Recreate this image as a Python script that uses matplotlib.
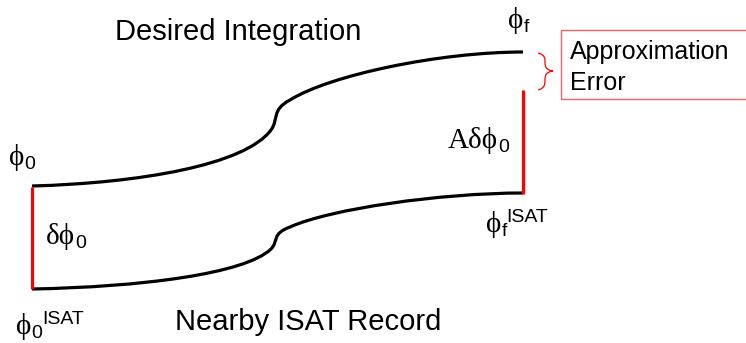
import matplotlib.pyplot as plt
from matplotlib.path import Path
from matplotlib.patches import PathPatch, Rectangle

# curve control points (pixel units, y downwards): start, then cubic triples
upper_curve = [(32, 186),
               (140, 183), (245, 165), (271, 130),
               (279, 119), (271, 110), (290, 100),
               (330, 75), (440, 52), (523, 52)]
lower_curve = [(32, 289),
               (140, 287), (245, 274), (271, 249),
               (279, 241), (271, 234), (290, 227),
               (330, 209), (440, 193), (523, 193)]

# vertical offsets between the two trajectories
start_gap = [(32, 187), (32, 289)]
end_gap = [(523, 90), (523, 194)]

# brace next to the error box
brace = [(538, 53),
         (545, 55), (545, 58), (545, 62),
         (545, 67), (546, 70), (553, 71),
         (546, 72), (545, 75), (545, 80),
         (545, 84), (545, 88), (538, 90)]

titles = ["Desired Integration", "Nearby ISAT Record"]
box_lines = ["Approximation", "Error"]

serif = ["Liberation Serif", "DejaVu Serif"]
sans = ["Liberation Sans", "DejaVu Sans"]


def bezier(pts):
    codes = [Path.MOVETO] + [Path.CURVE4] * (len(pts) - 1)
    return Path(pts, codes)


fig = plt.figure(figsize=(7.46, 3.43), dpi=100)
ax = fig.add_axes([0, 0, 1, 1])
ax.set_xlim(0, 746)
ax.set_ylim(343, 0)
ax.axis("off")

for pts in (upper_curve, lower_curve):
    ax.add_patch(PathPatch(bezier(pts), fc="none", ec="black", lw=2.3,
                           capstyle="butt"))

for seg in (start_gap, end_gap):
    xs, ys = zip(*seg)
    ax.plot(xs, ys, color="red", lw=2.3, solid_capstyle="butt")

ax.add_patch(PathPatch(bezier(brace), fc="none", ec="red", lw=0.9))
ax.add_patch(Rectangle((561, 30), 200, 69, fc="white", ec="#f06464",
                       lw=1.0, clip_on=True))

ax.text(570, 59, box_lines[0], family=sans, fontsize=18, va="baseline")
ax.text(570, 90, box_lines[1], family=sans, fontsize=18, va="baseline")

ax.text(115, 40, titles[0], family=sans, fontsize=21, va="baseline")
ax.text(175, 330, titles[1], family=sans, fontsize=21, va="baseline")


def right_edge(t):
    fig.canvas.draw()
    bb = t.get_window_extent()
    return ax.transData.inverted().transform((bb.x1, 0))[0]


def label(x, y, main, sub=None, sup=None, main_size=21):
    # main symbol in serif, sub/superscript in sans
    t = ax.text(x, y, main, family=serif, fontsize=main_size, va="baseline")
    x_end = right_edge(t)
    if sub is not None:
        s = ax.text(x_end, y + 4, sub, family=sans, fontsize=14,
                    va="baseline")
        x_end = right_edge(s)
    if sup is not None:
        ax.text(x_end, y - 10, sup, family=sans, fontsize=14, va="baseline")


label(9, 165, "\u03d5", sub="0")
label(46, 244, "\u03b4\u03d5", sub="0")
label(16, 334, "\u03d5", sub="0", sup="ISAT")
label(508, 28, "\u03d5", sub="f")
label(448, 148, "A\u03b4\u03d5", sub="0")
label(486, 232, "\u03d5", sub="f", sup="ISAT")

fig.savefig("out.png", dpi=100)
